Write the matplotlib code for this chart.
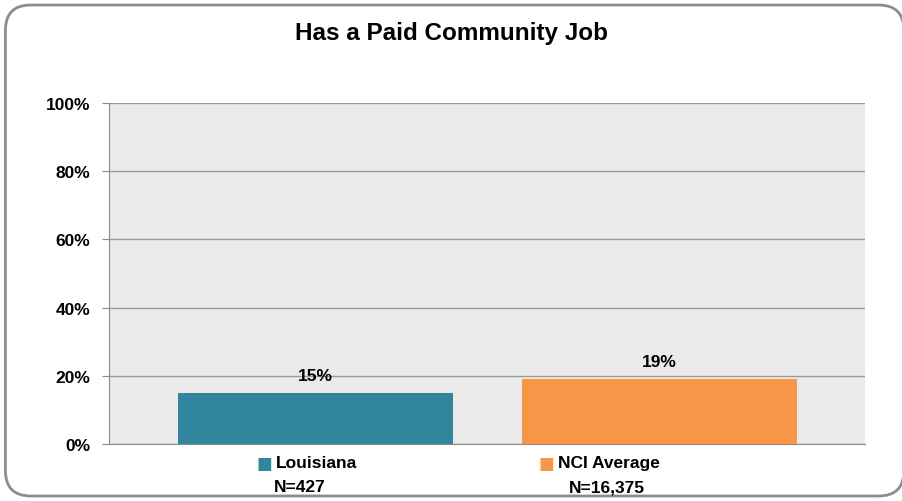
import matplotlib.pyplot as plt
from matplotlib.patches import FancyBboxPatch

# data
categories = ["Louisiana", "NCI Average"]
sample_sizes = ["N=427", "N=16,375"]
values = [15, 19]
colors = ["#31859C", "#F79646"]

plt.rcParams['font.family'] = ['Liberation Sans', 'DejaVu Sans']

W, H = 903, 502
fig = plt.figure(figsize=(W / 100, H / 100), dpi=100)

# rounded outer border
frame = FancyBboxPatch((0.006, 0.01), 0.995, 0.978, boxstyle="round,pad=0,rounding_size=0.028",
                       transform=fig.transFigure, facecolor="white", edgecolor="#8C8C8C",
                       linewidth=2, mutation_aspect=W / H, zorder=-10)
fig.patches.append(frame)

ax = fig.add_axes([109 / W, 1 - 445 / H, (865 - 109) / W, (445 - 104) / H])
ax.set_facecolor("#EAEAEA")

x = list(range(len(categories)))
ax.bar(x, values, width=0.8, color=colors, zorder=3)
for xi, v in zip(x, values):
    ax.annotate(f"{v}%", (xi, v), xytext=(0, 10), textcoords="offset pixels",
                ha="center", va="bottom", fontsize=12.5, fontweight="bold")

ax.set_xlim(-0.6, 1.597)
ax.set_ylim(0, 100)
ticks = [0, 20, 40, 60, 80, 100]
ax.set_yticks(ticks)
ax.set_yticklabels([f"{t}%" for t in ticks], fontsize=12.5, fontweight="bold")
ax.tick_params(axis="y", length=5, color="#8C8C8C", pad=8.5)
ax.set_xticks([])
ax.grid(axis="y", color="#9A9A9A", linewidth=1, zorder=1)
for s in ["top", "right"]:
    ax.spines[s].set_visible(False)
for s in ["left", "bottom"]:
    ax.spines[s].set_color("#8C8C8C")

# category labels with colour squares (Excel data-table style)
square_x = [264, 546]
label_x = [276, 558]
n_x = [300, 607]
for name, n, c, sx, lx, nx in zip(categories, sample_sizes, colors, square_x, label_x, n_x):
    fig.text(sx / W, 1 - 464 / H, "\u25A0", ha="center", va="center",
             fontsize=12, color=c, family="DejaVu Sans")
    fig.text(lx / W, 1 - 464 / H, name, ha="left", va="center",
             fontsize=12.5, fontweight="bold")
    fig.text(nx / W, 1 - 488 / H, n, ha="center", va="center",
             fontsize=12.5, fontweight="bold")

fig.text(0.5, 1 - 34 / H, "Has a Paid Community Job", ha="center", va="center",
         fontsize=17.5, fontweight="bold")

fig.savefig("out.png", dpi=100)
